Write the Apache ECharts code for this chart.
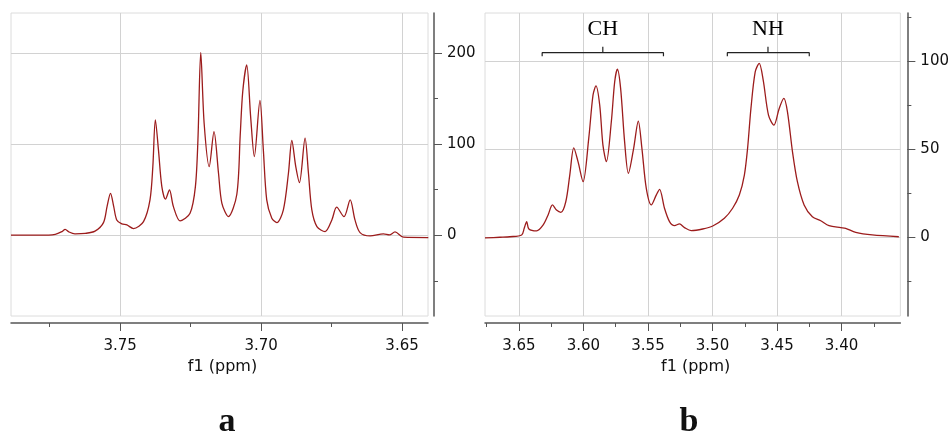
<!DOCTYPE html>
<html>
<head>
<meta charset="utf-8">
<script src="https://cdn.jsdelivr.net/npm/echarts@6/dist/echarts.min.js"></script>
<style>
html, body { margin: 0; padding: 0; background: #fff; }
#chart { width: 952px; height: 435px; }
</style>
</head>
<body>
<div id="chart"></div>
<script>
// spectrum a: chemical shift (ppm) and intensity
const aPpm = [3.7887, 3.7784, 3.7730, 3.7706, 3.7695, 3.7681, 3.7660, 3.7624, 3.7589, 3.7559,
    3.7546, 3.7534, 3.7523, 3.7512, 3.7494, 3.7476, 3.7453, 3.7417, 3.7394, 3.7384,
    3.7375, 3.7364, 3.7352, 3.7339, 3.7325, 3.7311, 3.7287, 3.7252, 3.7233, 3.7224,
    3.7214, 3.7202, 3.7184, 3.7167, 3.7151, 3.7139, 3.7116, 3.7086, 3.7074, 3.7065,
    3.7051, 3.7037, 3.7024, 3.7004, 3.6992, 3.6980, 3.6962, 3.6944, 3.6921, 3.6903,
    3.6891, 3.6877, 3.6864, 3.6844, 3.6832, 3.6820, 3.6802, 3.6773, 3.6749, 3.6732,
    3.6706, 3.6684, 3.6667, 3.6649, 3.6613, 3.6566, 3.6545, 3.6525, 3.6495, 3.6407];
const aInt = [0, 0, 1, 4, 6.5, 3.5, 1.5, 2, 4.5, 13.8,
    32, 46, 32, 16.8, 12.4, 11.3, 7.3, 15, 38.8, 75,
    126.7, 93.7, 53.4, 39.6, 49.8, 31.4, 15.7, 24, 53.4, 104.7,
    200.7, 123, 75.4, 113.8, 68, 35, 20.4, 45, 110, 158,
    187, 130, 86.4, 148, 93.7, 38.8, 18.7, 13.8, 27.8, 68,
    104, 75.4, 57.8, 106.6, 68, 27.8, 9.5, 4, 16.8, 30.8,
    20.4, 38.8, 16.8, 2.9, -0.8, 1.4, 0.3, 3.6, -2.2, -2.6];

// spectrum b
const bPpm = [3.6763, 3.6647, 3.6570, 3.6479, 3.6459, 3.6440, 3.6423, 3.6363, 3.6312, 3.6274,
    3.6240, 3.6209, 3.6175, 3.6137, 3.6106, 3.6075, 3.6042, 3.6003, 3.5959, 3.5926,
    3.5903, 3.5874, 3.5849, 3.5822, 3.5784, 3.5758, 3.5737, 3.5712, 3.5681, 3.5652,
    3.5611, 3.5575, 3.5547, 3.5513, 3.5474, 3.5436, 3.5410, 3.5372, 3.5333, 3.5294,
    3.5256, 3.5217, 3.5165, 3.5076, 3.4998, 3.4908, 3.4844, 3.4792, 3.4753, 3.4728,
    3.4702, 3.4669, 3.4638, 3.4607, 3.4566, 3.4524, 3.4483, 3.4447, 3.4419, 3.4380,
    3.4342, 3.4290, 3.4226, 3.4161, 3.4097, 3.4006, 3.3968, 3.3890, 3.3762, 3.3556];
const bInt = [-0.4, 0, 0.3, 1.3, 5.1, 8.9, 4.7, 3.6, 7, 12.7,
    18.4, 15.5, 14.2, 20.2, 35.4, 50.9, 43, 31.6, 56.3, 80.9,
    86.1, 75.2, 52.4, 43, 65.7, 88.4, 95.6, 84.7, 54.3, 36.4,
    50.6, 66.1, 50.6, 27.8, 18.4, 24, 27.3, 16.5, 8.9, 6.6,
    7.6, 5.5, 3.8, 4.7, 6.4, 10.8, 16.5, 24, 35.4, 50.6,
    73.3, 94.1, 98.9, 89.4, 69.5, 63.8, 73.3, 79, 71.4, 48.6,
    31.6, 18.4, 11.7, 9.4, 6.6, 5.5, 5.1, 2.8, 1.3, 0.3];

const aRange = [3.6408, 3.7887];
const bRange = [3.3544, 3.6763];
const aYRange = [-88.7, 244];
const bYRange = [-44.8, 127.6];

const aMajorX = [3.75, 3.70, 3.65];
const aMinorX = [3.775, 3.725, 3.675];
const bMajorX = [3.65, 3.60, 3.55, 3.50, 3.45, 3.40];
const bMinorX = [3.675, 3.625, 3.575, 3.525, 3.475, 3.425, 3.375];
const aMajorY = [0, 100, 200];
const aMinorY = [-50, 50, 150];
const bMajorY = [0, 50, 100];
const bMinorY = [-25, 25, 75, 125];

// multiplet brackets in spectrum b
const groupNames = ['CH', 'NH'];
const groupStart = [3.632, 3.4885];
const groupMid = [3.585, 3.457];
const groupEnd = [3.538, 3.425];

const panelNames = ['a', 'b'];

const axisColor = '#555';
const tickFont = { fontFamily: 'DejaVu Sans', fontSize: 15, color: '#111' };

function xMajor(grid, range, ticks) {
    return {
        type: 'value', gridIndex: grid, min: range[0], max: range[1], inverse: true,
        position: 'bottom', offset: 7,
        axisLine: { show: true, onZero: false, lineStyle: { color: axisColor, width: 1.5 } },
        axisTick: { show: true, customValues: ticks, length: 8, lineStyle: { color: axisColor } },
        axisLabel: { show: true, customValues: ticks, margin: 16, formatter: v => v.toFixed(2), ...tickFont },
        splitLine: { show: true, lineStyle: { color: '#d2d2d2' } },
        name: 'f1 (ppm)', nameLocation: 'middle', nameGap: 34,
        nameTextStyle: { fontFamily: 'DejaVu Sans', fontSize: 16, color: '#111', padding: [0, 0, 0, 6] },
    };
}

function xMinor(grid, range, ticks) {
    return {
        type: 'value', gridIndex: grid, min: range[0], max: range[1], inverse: true,
        position: 'bottom', offset: 7,
        axisLine: { show: false, onZero: false },
        axisTick: { show: true, customValues: ticks, length: 4, lineStyle: { color: axisColor } },
        axisLabel: { show: false },
        splitLine: { show: false },
    };
}

function yMajor(grid, range, ticks, offset) {
    return {
        type: 'value', gridIndex: grid, min: range[0], max: range[1],
        position: 'right', offset: offset,
        axisLine: { show: true, onZero: false, lineStyle: { color: axisColor, width: 1.5 } },
        axisTick: { show: true, customValues: ticks, length: 8, lineStyle: { color: axisColor } },
        axisLabel: { show: true, customValues: ticks, margin: 13, ...tickFont },
        splitLine: { show: true, lineStyle: { color: '#d2d2d2' } },
    };
}

function yMinor(grid, range, ticks, offset) {
    return {
        type: 'value', gridIndex: grid, min: range[0], max: range[1],
        position: 'right', offset: offset,
        axisLine: { show: false, onZero: false },
        axisTick: { show: true, customValues: ticks, length: 4, lineStyle: { color: axisColor } },
        axisLabel: { show: false },
        splitLine: { show: false },
    };
}

const chart = echarts.init(document.getElementById('chart'));

const spectrumStyle = { color: '#9c1c1c', width: 1.3 };

const series = [
    {
        type: 'line', xAxisIndex: 0, yAxisIndex: 0, symbol: 'none', smooth: 0.3, silent: true,
        data: aPpm.map((p, i) => [p, aInt[i]]), lineStyle: spectrumStyle,
    },
    {
        type: 'line', xAxisIndex: 2, yAxisIndex: 2, symbol: 'none', smooth: 0.3, silent: true,
        data: bPpm.map((p, i) => [p, bInt[i]]), lineStyle: spectrumStyle,
    },
];

const level = 105; // bracket height in intensity units
groupNames.forEach((name, i) => {
    series.push({
        type: 'line', xAxisIndex: 2, yAxisIndex: 2, symbol: 'none', silent: true,
        lineStyle: { color: '#222', width: 1.2 },
        data: [
            [groupStart[i], level - 2], [groupStart[i], level], [groupMid[i], level],
            [groupMid[i], level + 3.4], [groupMid[i], level], [groupEnd[i], level], [groupEnd[i], level - 2],
        ],
    });
});

series.push({
    type: 'scatter', xAxisIndex: 2, yAxisIndex: 2, symbolSize: 0, silent: true,
    data: groupNames.map((n, i) => ({ name: n, value: [groupMid[i], 118.5] })),
    label: {
        show: true, position: 'inside', formatter: '{b}',
        fontFamily: 'Liberation Serif', fontSize: 22, color: '#000',
        textBorderWidth: 0, opacity: 1,
    },
});

chart.setOption({
    animation: false,
    grid: [
        { left: 11, top: 13, width: 417, height: 303, show: true, borderColor: '#dcdcdc', borderWidth: 1 },
        { left: 485, top: 13, width: 416, height: 303, show: true, borderColor: '#dcdcdc', borderWidth: 1 },
    ],
    xAxis: [
        xMajor(0, aRange, aMajorX),
        xMinor(0, aRange, aMinorX),
        xMajor(1, bRange, bMajorX),
        xMinor(1, bRange, bMinorX),
    ],
    yAxis: [
        yMajor(0, aYRange, aMajorY, 6),
        yMinor(0, aYRange, aMinorY, 6),
        yMajor(1, bYRange, bMajorY, 7),
        yMinor(1, bYRange, bMinorY, 7),
    ],
    graphic: panelNames.map((t, i) => ({
        type: 'text', x: [227, 689][i], y: 422,
        style: {
            text: t, font: 'bold 34px "Liberation Serif"', fill: '#111',
            textAlign: 'center', textVerticalAlign: 'middle',
        },
    })),
    series: series,
});
</script>
</body>
</html>
